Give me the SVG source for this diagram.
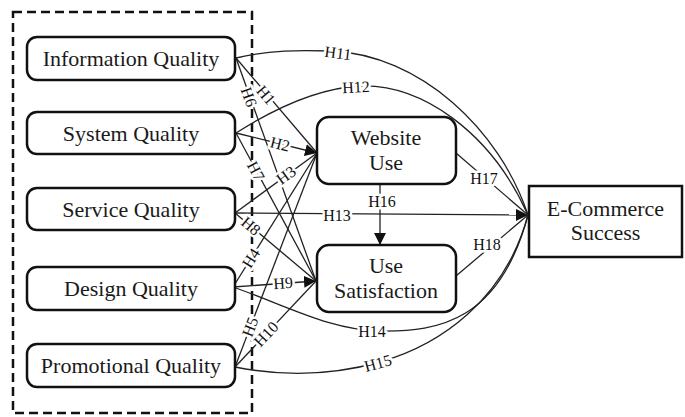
<svg xmlns="http://www.w3.org/2000/svg" width="685" height="417" viewBox="0 0 685 417">
<style>
.nd{fill:#fff;stroke:#111;stroke-width:2.5}
.nt{font-family:"Liberation Serif","Times New Roman",serif;font-size:22px;text-anchor:middle;fill:#1a1a1a}
.e{fill:none;stroke:#222;stroke-width:1.3}
.l{font-family:"Liberation Serif","Times New Roman",serif;font-size:16px;text-anchor:middle;dominant-baseline:central;paint-order:stroke;stroke:#fff;stroke-width:5px;stroke-linejoin:round;fill:#111}
.grp{fill:none;stroke:#111;stroke-width:2.5;stroke-dasharray:9 5}
</style>
<defs>
<marker id="ah" markerUnits="userSpaceOnUse" markerWidth="12" markerHeight="12" refX="12" refY="6" orient="auto">
<path d="M0,0 L12,6 L0,12 z" fill="#111"/>
</marker>
</defs>
<rect id="group-box" class="grp" x="13" y="12" width="239" height="401"/>
<g id="connectors">
<path class="e" d="M236,58 L317,153"/>
<path class="e" d="M236,58 L316,281"/>
<path class="e" d="M236,133 L317,153" marker-end="url(#ah)"/>
<path class="e" d="M236,133 L316,281"/>
<path class="e" d="M235,213 L317,153"/>
<path class="e" d="M235,213 L316,281"/>
<path class="e" d="M233,287 L317,153"/>
<path class="e" d="M233,287 L316,281" marker-end="url(#ah)"/>
<path class="e" d="M235,367 L317,153"/>
<path class="e" d="M235,367 L316,281"/>
<path class="e" d="M235,213 L528,215" marker-end="url(#ah)"/>
<path class="e" d="M236,58 C270,50 300,50 330,51 C420,54 500,130 528,215"/>
<path class="e" d="M236,133 C280,105 320,88 360,86 C420,84 490,130 528,215"/>
<path class="e" d="M233,287 C290,307 330,330 380,331 C440,332 500,320 528,215"/>
<path class="e" d="M235,367 C280,376 330,376 380,362 C440,345 505,300 528,215"/>
<path class="e" d="M456,153 L528,215"/>
<path class="e" d="M456,276 L528,215"/>
<path class="e" d="M380,184 L380,245" marker-end="url(#ah)"/>
<text class="l" transform="translate(266,95) rotate(49.5)">H1</text>
<text class="l" transform="translate(249,97) rotate(70.5)">H6</text>
<text class="l" transform="translate(280,144) rotate(13.9)">H2</text>
<text class="l" transform="translate(256,171) rotate(61.9)">H7</text>
<text class="l" transform="translate(286,175) rotate(-35.7)">H3</text>
<text class="l" transform="translate(251,226) rotate(40)">H8</text>
<text class="l" transform="translate(251,258) rotate(-57.9)">H4</text>
<text class="l" transform="translate(283,283) rotate(-4.1)">H9</text>
<text class="l" transform="translate(250,327) rotate(-69)">H5</text>
<text class="l" transform="translate(266,334) rotate(-46.7)">H10</text>
<text class="l" x="337" y="215">H13</text>
<text class="l" transform="translate(338,53) rotate(7)">H11</text>
<text class="l" transform="translate(356,87) rotate(-3)">H12</text>
<text class="l" x="372" y="331">H14</text>
<text class="l" transform="translate(378,363) rotate(-15)">H15</text>
<text class="l" x="382" y="201">H16</text>
<text class="l" x="484" y="178">H17</text>
<text class="l" x="487" y="244">H18</text>
</g>
<g id="info-quality"><rect class="nd" x="27" y="37" width="208" height="43" rx="10"/><text class="nt" x="131" y="66">Information Quality</text></g>
<g id="system-quality"><rect class="nd" x="27" y="112" width="208" height="42" rx="10"/><text class="nt" x="131" y="140.5">System Quality</text></g>
<g id="service-quality"><rect class="nd" x="27" y="188" width="208" height="42" rx="10"/><text class="nt" x="131" y="216.5">Service Quality</text></g>
<g id="design-quality"><rect class="nd" x="27" y="267" width="208" height="43" rx="10"/><text class="nt" x="131" y="296">Design Quality</text></g>
<g id="promotional-quality"><rect class="nd" x="27" y="344" width="208" height="43" rx="10"/><text class="nt" x="131" y="373">Promotional Quality</text></g>
<g id="website-use"><rect class="nd" x="317" y="117" width="139" height="67" rx="12"/><text class="nt" x="386" y="144.5">Website</text><text class="nt" x="386" y="170">Use</text></g>
<g id="use-satisfaction"><rect class="nd" x="317" y="245" width="139" height="67" rx="12"/><text class="nt" x="386" y="272.5">Use</text><text class="nt" x="386" y="298">Satisfaction</text></g>
<g id="ecommerce-success"><rect class="nd" x="529" y="186" width="153" height="71" rx="0"/><text class="nt" x="605.5" y="215.5">E-Commerce</text><text class="nt" x="605.5" y="240">Success</text></g>
</svg>
